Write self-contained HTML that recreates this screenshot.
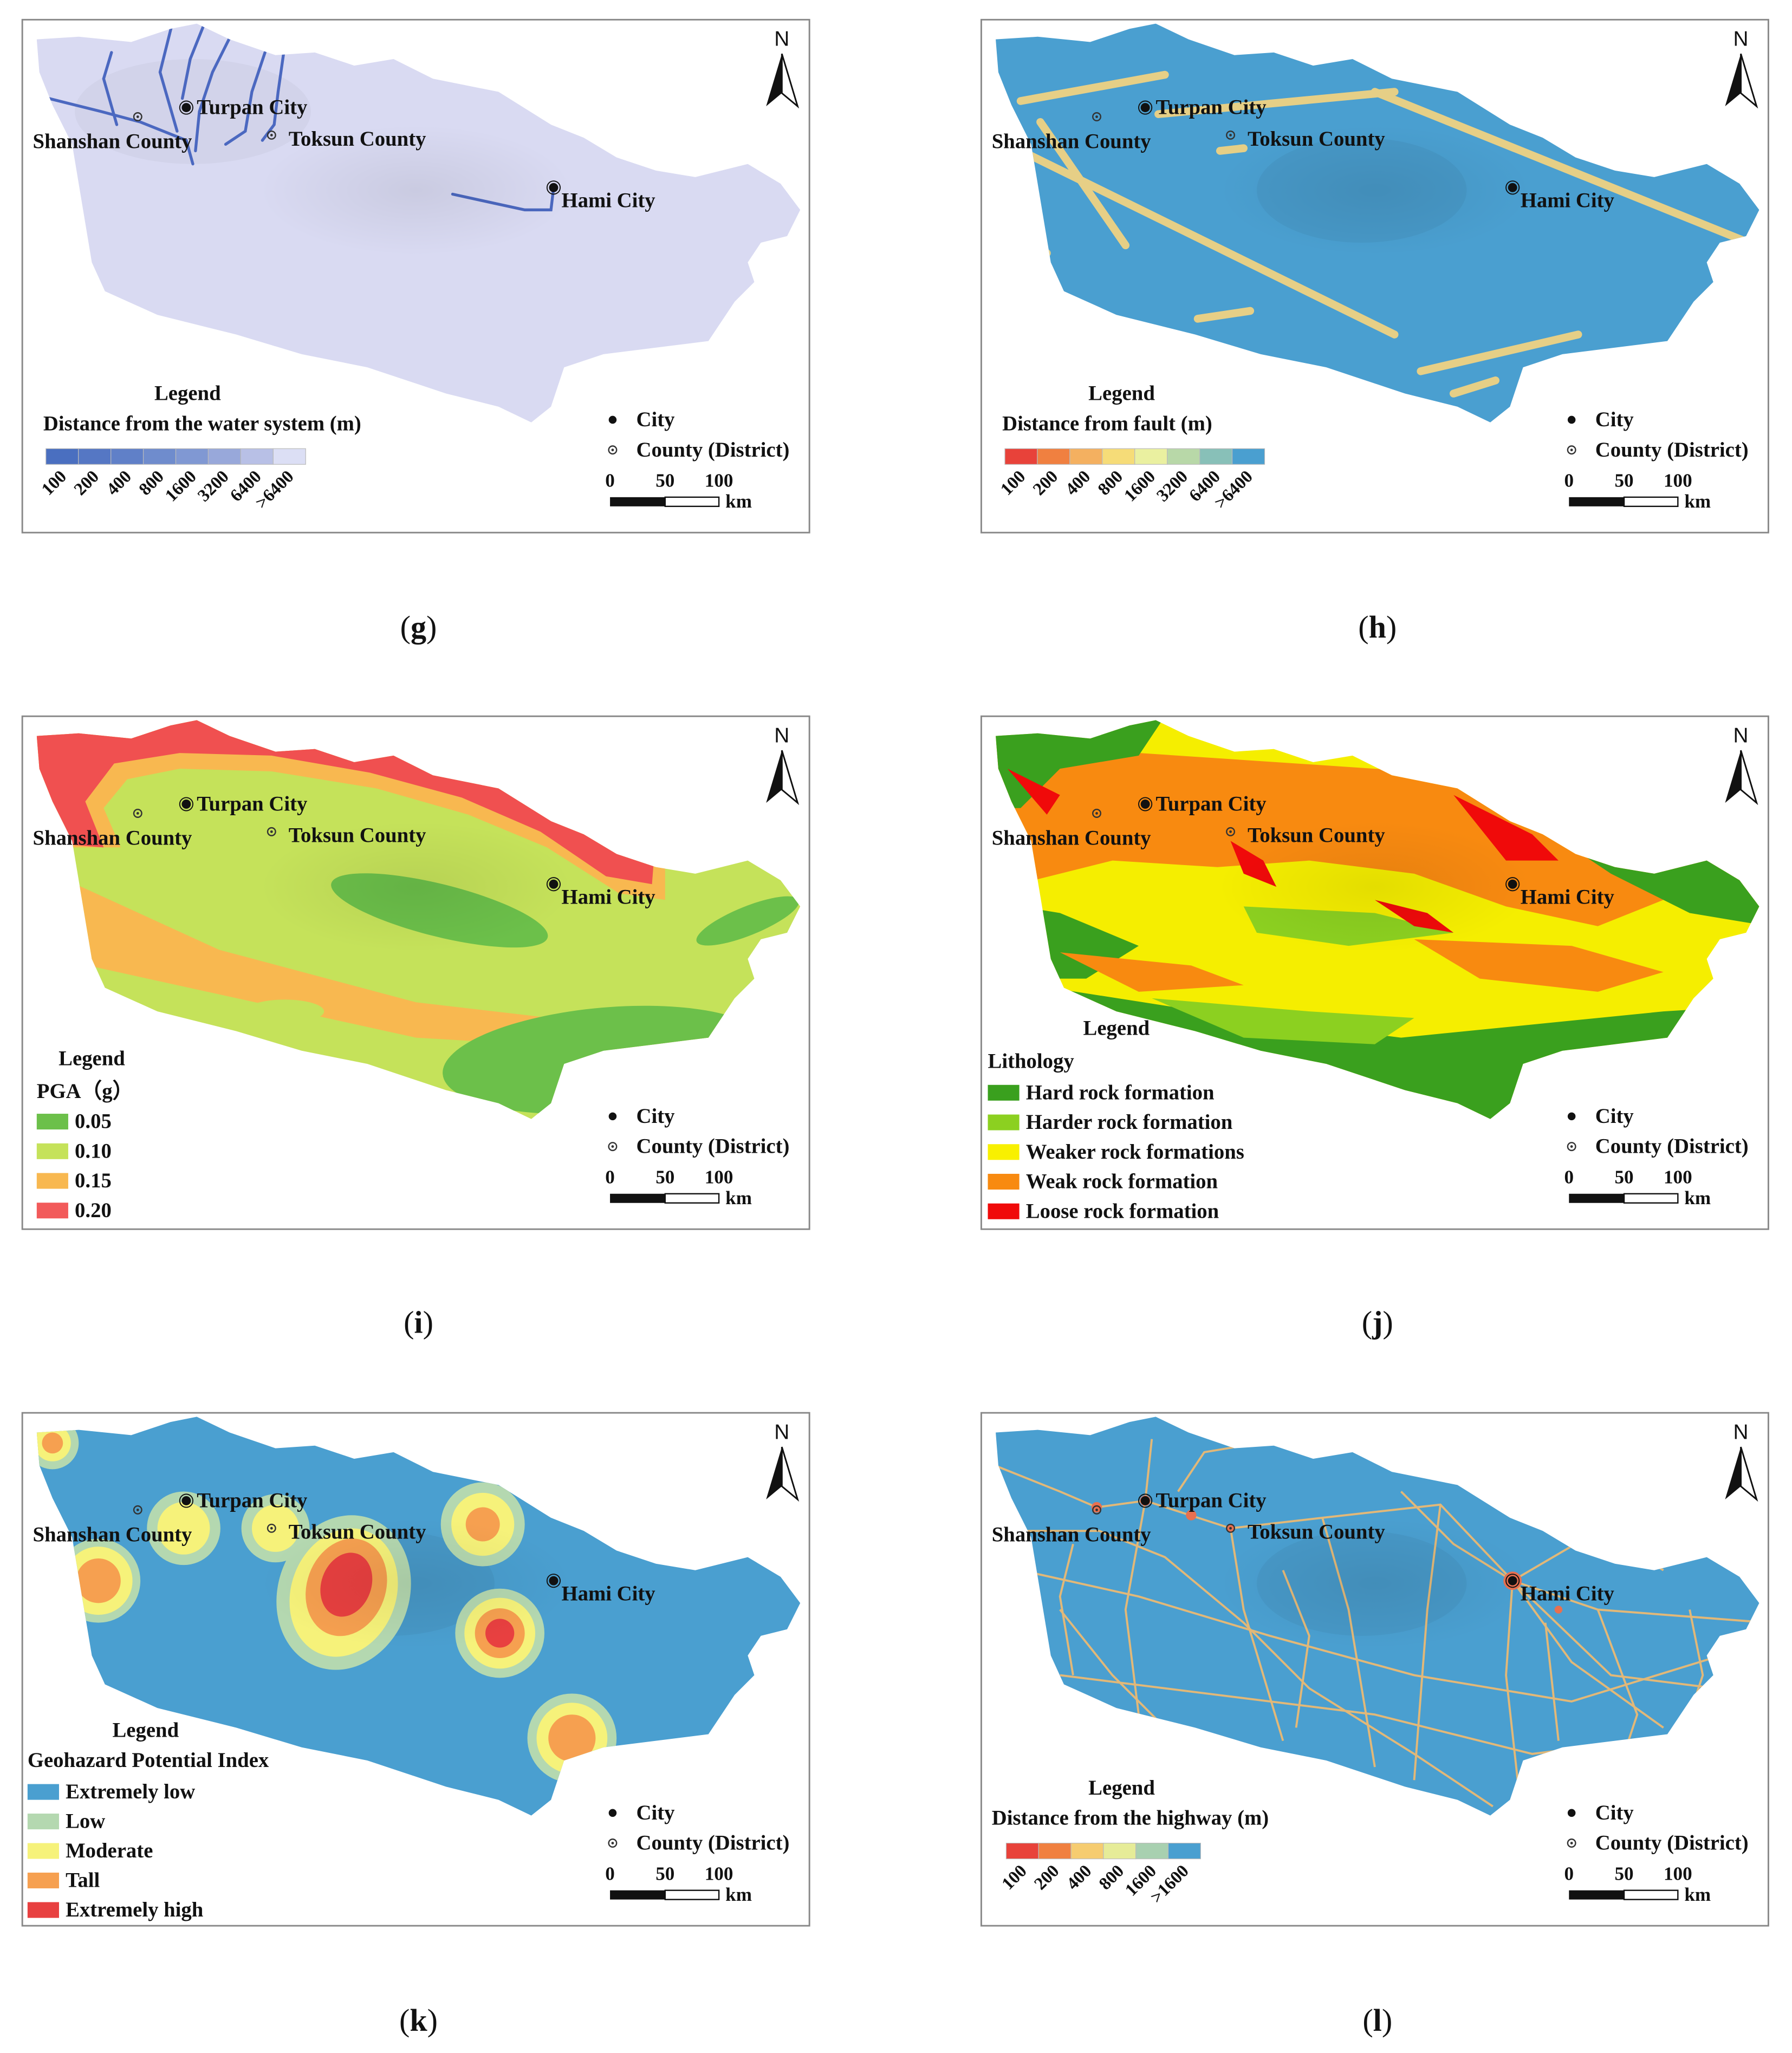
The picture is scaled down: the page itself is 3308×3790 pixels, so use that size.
<!DOCTYPE html>
<html><head><meta charset="utf-8"><style>
html,body{margin:0;padding:0;background:#fff}
svg{display:block}
text{font-family:"Liberation Serif",serif;font-weight:bold;fill:#111}
</style></head><body>
<svg id="fig" width="3308" height="3790" viewBox="0 0 1366 1565" preserveAspectRatio="none" xmlns="http://www.w3.org/2000/svg">
<defs>
<clipPath id="mapclip"><polygon id="outline" points="11,15 43,13 83,17 113,7 133,3 158,15 193,27 223,25 253,35 283,30 313,45 363,55 403,80 428,90 453,105 483,115 513,120 553,110 578,125 593,145 583,165 563,170 553,185 558,200 543,215 523,245 483,250 443,255 413,265 403,295 388,307 363,295 323,285 263,265 213,255 163,240 103,225 63,207 53,185 48,155 43,125 38,95 23,65 13,40"/></clipPath>
<radialGradient id="shade" cx="0.5" cy="0.5" r="0.5"><stop offset="0" stop-color="#000" stop-opacity="0.07"/><stop offset="1" stop-color="#000" stop-opacity="0"/></radialGradient>
</defs>
<g id="panels"></g>
</svg>
<script>
const panelPos = [[17,15],[748,15],[17,546],[748,546],[17,1077],[748,1077]];
const captions = ['(g)','(h)','(i)','(j)','(k)','(l)'];
const captionY = [478,478,1008,1008,1540,1540];

const gBar = ['#4a6fc0','#5577c4','#6080c8','#6f8ccd','#8098d3','#98a8da','#b8c0e6','#dcdff5'];
const gLabels = ['100','200','400','800','1600','3200','6400','>6400'];
const hBar = ['#e8423a','#f08040','#f4b060','#f6dc78','#eaf0a0','#b8d8a8','#88c0b8','#4a9fd0'];
const lBar = ['#e8423a','#f08040','#f6cc70','#e6ec98','#a8d0b0','#4a9fd0'];
const lLabels = ['100','200','400','800','1600','>1600'];
const iItems = ['0.05','0.10','0.15','0.20'];
const iColors = ['#6cc04a','#c5e25a','#f8b850','#f25a5a'];
const jItems = ['Hard rock formation','Harder rock formation','Weaker rock formations','Weak rock formation','Loose rock formation'];
const jColors = ['#3aa01e','#8cd020','#f8f000','#f88a10','#f00a0a'];
const kItems = ['Extremely low','Low','Moderate','Tall','Extremely high'];
const kColors = ['#4a9fd0','#b4d8b0','#f6f27a','#f6a050','#e84040'];

function common(){
  return `
  <ellipse cx="300" cy="130" rx="120" ry="50" fill="url(#shade)" clip-path="url(#mapclip)"/>
  <g>
   <text x="579" y="20" font-size="16" text-anchor="middle" style="font-family:'Liberation Sans',sans-serif;font-weight:normal">N</text>
   <polygon points="579,26 567,66 579,56" fill="#111"/><polygon points="579,26 591,66 579,56" fill="#fff" stroke="#111" stroke-width="1.2"/>
  </g>
  <g>
   <circle cx="125" cy="67" r="3.5" fill="#111"/><circle cx="125" cy="67" r="5" fill="none" stroke="#111" stroke-width="0.8"/>
   <text x="133" y="72" font-size="16">Turpan City</text>
   <circle cx="88" cy="74" r="3" fill="none" stroke="#333" stroke-width="1"/><circle cx="88" cy="74" r="1" fill="#333"/>
   <text x="8" y="98" font-size="16">Shanshan County</text>
   <circle cx="190" cy="88" r="3" fill="none" stroke="#333" stroke-width="1"/><circle cx="190" cy="88" r="1" fill="#333"/>
   <text x="203" y="96" font-size="16">Toksun County</text>
   <circle cx="405" cy="128" r="3.5" fill="#111"/><circle cx="405" cy="128" r="5" fill="none" stroke="#111" stroke-width="0.8"/>
   <text x="411" y="143" font-size="16">Hami City</text>
  </g>
  <g>
   <circle cx="450" cy="305" r="3" fill="#111"/><text x="468" y="310" font-size="16">City</text>
   <circle cx="450" cy="328" r="3" fill="none" stroke="#333"/><circle cx="450" cy="328" r="1" fill="#333"/><text x="468" y="333" font-size="16">County (District)</text>
  </g>
  <g>
   <text x="448" y="356" font-size="14.5" text-anchor="middle">0</text><text x="490" y="356" font-size="14.5" text-anchor="middle">50</text><text x="531" y="356" font-size="14.5" text-anchor="middle">100</text>
   <rect x="448" y="364" width="42" height="7" fill="#111"/><rect x="490" y="364" width="41" height="7" fill="#fff" stroke="#111" stroke-width="1"/>
   <text x="536" y="372" font-size="14.5">km</text>
  </g>`;
}
function bar(colors, labels, x0, w, y){
  let s='';
  colors.forEach((c,i)=>{ s+=`<rect x="${x0+i*w}" y="${y}" width="${w}" height="12" fill="${c}" stroke="#bbb" stroke-width="0.5"/>`;});
  labels.forEach((l,i)=>{ const cx=x0+i*w+w*0.5+4; s+=`<text x="${cx}" y="${y+22}" font-size="13.5" text-anchor="end" transform="rotate(-45 ${cx} ${y+22})">${l}</text>`;});
  return s;
}
function list(items, colors, x, y0, dy){
  let s='';
  items.forEach((t,i)=>{ const y=y0+i*dy; s+=`<rect x="${x}" y="${y-6}" width="24" height="12" fill="${colors[i]}"/><text x="${x+29}" y="${y+5}" font-size="16">${t}</text>`;});
  return s;
}
function clip(inner){ return `<g clip-path="url(#mapclip)">${inner}</g>`; }

const maps = [];
maps.push(clip(`<rect width="600" height="391" fill="#d9daf2"/>
<ellipse cx="130" cy="70" rx="90" ry="40" fill="#000" opacity="0.03"/>
<g fill="none" stroke="#4b68c0" stroke-width="2.2" stroke-linecap="round">
<polyline points="20,60 60,70 90,78 125,92 130,110"/><polyline points="68,25 62,45 72,80"/><polyline points="115,0 105,40 118,85"/>
<polyline points="140,0 128,30 122,60"/><polyline points="160,10 145,40 135,70 132,100"/><polyline points="185,25 175,55 170,85 155,95"/>
<polyline points="200,20 195,55 192,80 183,92"/><polyline points="328,133 360,140 383,145 403,145 405,128"/></g>`));
maps.push(clip(`<rect width="600" height="391" fill="#4a9fd0"/>
<ellipse cx="290" cy="130" rx="80" ry="40" fill="#000" opacity="0.04"/>
<g fill="none" stroke="#e6cf86" stroke-width="6" stroke-linecap="round">
<line x1="30" y1="62" x2="140" y2="42"/><line x1="45" y1="78" x2="110" y2="172"/><line x1="10" y1="90" x2="315" y2="240"/>
<line x1="135" y1="72" x2="315" y2="55"/><line x1="300" y1="55" x2="590" y2="172"/><line x1="165" y1="228" x2="205" y2="222"/>
<line x1="335" y1="268" x2="455" y2="240"/><line x1="360" y1="285" x2="392" y2="275"/><line x1="182" y1="100" x2="200" y2="98"/>
<line x1="0" y1="125" x2="50" y2="178"/></g>`));
maps.push(clip(`<rect width="600" height="391" fill="#c5e25a"/>
<polygon points="0,0 490,0 490,140 455,135 400,100 340,75 270,55 190,42 120,40 80,48 62,70 75,100 0,100" fill="#f8b850"/>
<polygon points="0,0 490,0 480,128 445,122 395,88 335,62 265,43 190,30 120,28 70,36 48,65 62,100 0,95" fill="#f05050"/>
<polygon points="0,110 45,130 150,178 300,218 420,232 600,240 600,262 420,252 300,245 150,212 50,190 60,260 0,260" fill="#f8b850"/>
<ellipse cx="318" cy="148" rx="85" ry="20" transform="rotate(14 318 148)" fill="#6cc04a"/>
<ellipse cx="553" cy="156" rx="42" ry="11" transform="rotate(-22 553 156)" fill="#6cc04a"/>
<ellipse cx="445" cy="262" rx="125" ry="40" transform="rotate(-5 445 262)" fill="#6cc04a"/>
<ellipse cx="200" cy="225" rx="30" ry="9" fill="#c5e25a"/>`));
maps.push(clip(`<rect width="600" height="391" fill="#f5ee00"/>
<polygon points="0,20 600,60 600,150 520,140 470,160 400,145 330,120 250,110 180,115 100,110 40,125 0,120" fill="#f88a10"/>
<polygon points="0,0 140,0 120,30 60,40 30,70 0,70" fill="#3aa01e"/>
<polygon points="420,80 600,110 600,160 540,150 480,120" fill="#3aa01e"/>
<polygon points="0,140 60,150 120,175 80,200 20,200 0,190" fill="#3aa01e"/>
<polygon points="40,205 200,230 320,245 420,235 520,225 600,220 600,391 0,391" fill="#3aa01e"/>
<polygon points="130,215 250,225 330,230 300,250 200,245" fill="#8cd020"/>
<polygon points="60,180 160,190 200,205 120,210" fill="#f88a10"/>
<polygon points="330,170 450,175 520,195 470,210 380,200" fill="#f88a10"/>
<polygon points="200,145 300,150 360,165 280,175 210,165" fill="#8cd020"/>
<polygon points="360,60 420,90 440,110 400,110" fill="#f00a0a"/>
<polygon points="190,95 215,110 225,130 200,120" fill="#f00a0a"/>
<polygon points="300,140 340,150 360,165 330,160" fill="#f00a0a"/>
<polygon points="20,40 60,60 50,75" fill="#f00a0a"/>`));
maps.push(clip(`<rect width="600" height="391" fill="#4a9fd0"/>
<ellipse cx="280" cy="130" rx="80" ry="40" fill="#000" opacity="0.04"/>
<circle cx="23" cy="23" r="20" fill="#b4d8b0"/><circle cx="23" cy="23" r="14" fill="#f6f27a"/><circle cx="23" cy="23" r="8" fill="#f6a050"/>
<circle cx="58" cy="128" r="32" fill="#b4d8b0"/><circle cx="58" cy="128" r="26" fill="#f6f27a"/><circle cx="58" cy="128" r="17" fill="#f6a050"/>
<circle cx="123" cy="88" r="28" fill="#b4d8b0"/><circle cx="123" cy="88" r="20" fill="#f6f27a"/>
<circle cx="193" cy="88" r="26" fill="#b4d8b0"/><circle cx="193" cy="88" r="18" fill="#f6f27a"/>
<ellipse cx="245" cy="137" rx="50" ry="60" transform="rotate(20 245 137)" fill="#b4d8b0"/><ellipse cx="245" cy="137" rx="40" ry="50" transform="rotate(20 245 137)" fill="#f6f27a"/>
<ellipse cx="247" cy="133" rx="30" ry="38" transform="rotate(20 247 133)" fill="#f6a050"/><ellipse cx="247" cy="131" rx="19" ry="25" transform="rotate(20 247 131)" fill="#e84040"/>
<circle cx="351" cy="85" r="32" fill="#b4d8b0"/><circle cx="351" cy="85" r="24" fill="#f6f27a"/><circle cx="351" cy="85" r="13" fill="#f6a050"/>
<circle cx="364" cy="168" r="34" fill="#b4d8b0"/><circle cx="364" cy="168" r="27" fill="#f6f27a"/><circle cx="364" cy="168" r="19" fill="#f6a050"/><circle cx="364" cy="168" r="11" fill="#e84040"/>
<circle cx="419" cy="248" r="34" fill="#b4d8b0"/><circle cx="419" cy="248" r="27" fill="#f6f27a"/><circle cx="419" cy="248" r="18" fill="#f6a050"/>`));
maps.push(clip(`<rect width="600" height="391" fill="#4a9fd0"/>
<ellipse cx="290" cy="130" rx="80" ry="40" fill="#000" opacity="0.04"/>
<g fill="none" stroke="#e2b878" stroke-width="1.6">
<polyline points="10,40 60,60 88,72 125,67 190,88 260,80 350,70 405,128 470,150 600,160"/>
<polyline points="20,90 90,90 140,110 200,160 250,210 330,260 390,300"/>
<polyline points="60,150 100,200 140,240"/><polyline points="130,20 125,67 110,150 120,230"/>
<polyline points="190,88 200,150 230,250"/><polyline points="260,80 280,150 300,270"/>
<polyline points="350,70 340,150 330,280"/><polyline points="405,128 400,200 410,290"/>
<polyline points="405,128 450,190 520,240"/><polyline points="405,128 360,100 320,60"/>
<polyline points="405,128 470,90 520,120"/><polyline points="405,128 480,200 560,210"/>
<polyline points="30,120 120,140 220,170 330,200 450,220 580,180"/>
<polyline points="60,200 180,215 300,230 420,260 500,250"/>
<polyline points="470,150 500,230 490,260"/><polyline points="540,150 550,200 540,230"/>
<polyline points="150,60 170,30 200,25"/><polyline points="70,100 60,140 70,200"/>
<polyline points="230,120 250,170 240,240"/><polyline points="430,160 440,250"/>
</g>
<g fill="#e87050"><circle cx="88" cy="72" r="4"/><circle cx="125" cy="67" r="4"/><circle cx="160" cy="78" r="4"/><circle cx="190" cy="88" r="3"/><circle cx="405" cy="128" r="7"/><circle cx="440" cy="150" r="3"/></g>`));

const legends = [
 `<text x="126" y="290" font-size="16" text-anchor="middle">Legend</text><text x="16" y="313" font-size="16">Distance from the water system (m)</text>${bar(gBar,gLabels,18,24.75,327)}`,
 `<text x="107" y="290" font-size="16" text-anchor="middle">Legend</text><text x="16" y="313" font-size="16">Distance from fault (m)</text>${bar(hBar,gLabels,18,24.75,327)}`,
 `<text x="53" y="266" font-size="16" text-anchor="middle">Legend</text><text x="11" y="291" font-size="16">PGA（g）</text>${list(iItems,iColors,11,309,22.6)}`,
 `<text x="103" y="243" font-size="16" text-anchor="middle">Legend</text><text x="5" y="268" font-size="16">Lithology</text>${list(jItems,jColors,5,287,22.6)}`,
 `<text x="94" y="247" font-size="16" text-anchor="middle">Legend</text><text x="4" y="270" font-size="16">Geohazard Potential Index</text>${list(kItems,kColors,4,289,22.5)}`,
 `<text x="107" y="291" font-size="16" text-anchor="middle">Legend</text><text x="8" y="314" font-size="16">Distance from the highway (m)</text>${bar(lBar,lLabels,19,24.7,328)}`
];
const names = ['water-system-map','fault-distance-map','pga-map','lithology-map','geohazard-index-map','highway-distance-map'];
let html='';
panelPos.forEach((p,i)=>{
  html+=`<g transform="translate(${p[0]},${p[1]})">
  <rect x="0" y="0" width="600" height="391" fill="#fff" stroke="#888" stroke-width="1.2"/>
  <g>${maps[i]}</g>
  ${common()}
  <g>${legends[i]}</g>
  </g>
  <text x="${p[0]+302}" y="${captionY[i]+8}" font-size="24" text-anchor="middle" style="font-weight:normal">(<tspan font-weight="bold">${captions[i].replace(/[()]/g,'')}</tspan>)</text>`;
});
document.getElementById('panels').innerHTML = html;
</script>
</body></html>
